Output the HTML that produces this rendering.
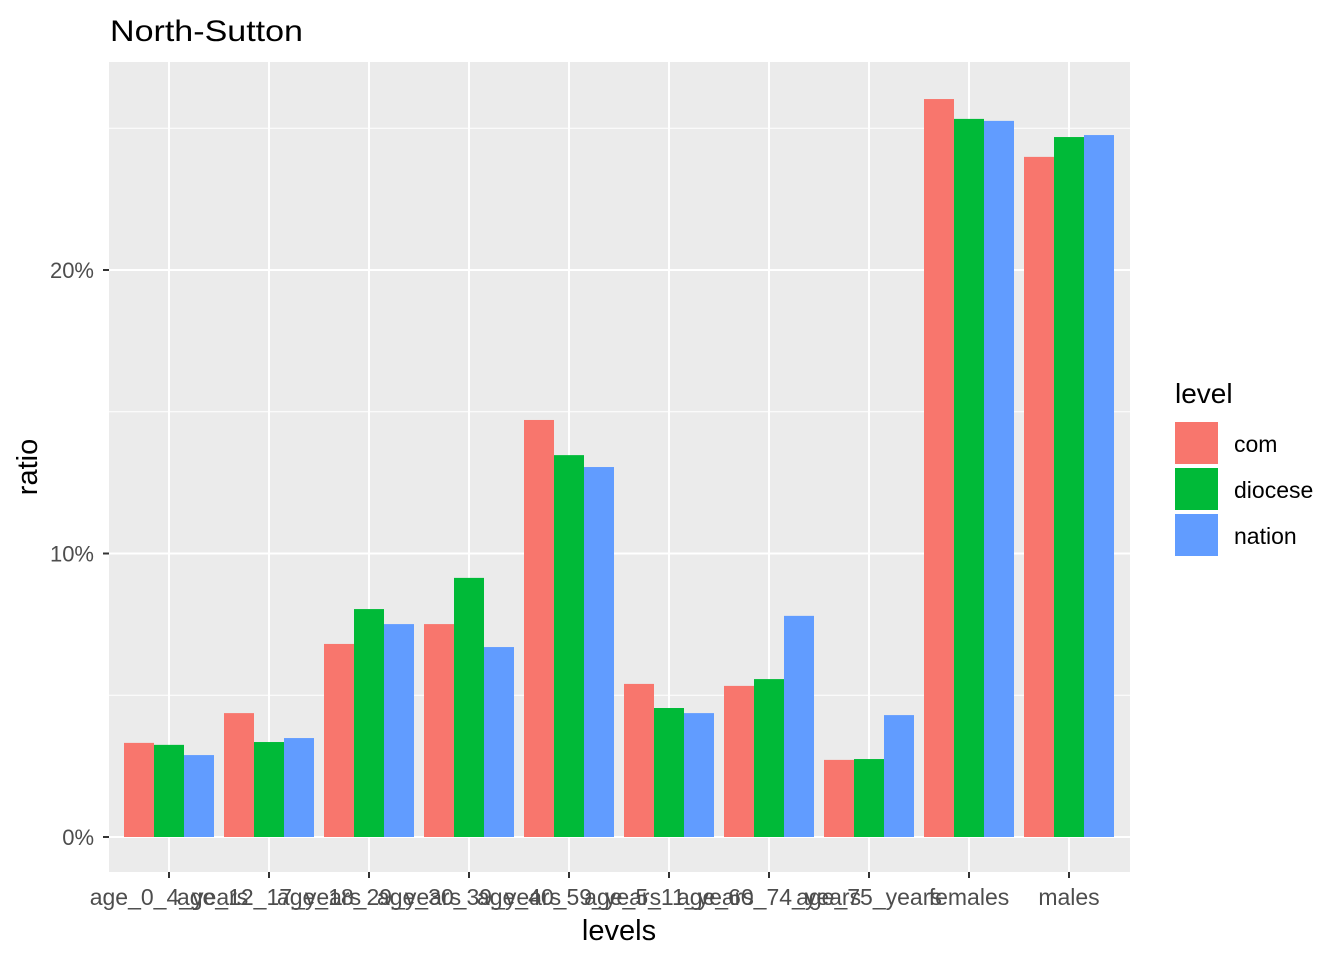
<!DOCTYPE html>
<html><head><meta charset="utf-8"><style>
body{margin:0;background:#fff;font-family:"Liberation Sans",sans-serif;}
</style></head><body>
<svg id="chart" width="1344" height="960" xmlns="http://www.w3.org/2000/svg">
<text x="110" y="41" font-size="30" textLength="193" lengthAdjust="spacingAndGlyphs" fill="#000">North-Sutton</text>
<rect x="109" y="62" width="1021" height="810" fill="#ebebeb"/>
<g id="grid"></g><g id="bars"></g><g id="axes"></g>
<text x="619" y="940" font-size="29" text-anchor="middle" fill="#000">levels</text>
<text transform="translate(37,467) rotate(-90)" font-size="29" text-anchor="middle" fill="#000">ratio</text>
<g>
<text x="1175" y="403" font-size="28" fill="#000">level</text>
<g id="legend"></g>
</g>
</svg>
<script>
const categories=["age_0_4_years","age_12_17_years","age_18_29_years","age_30_39_years","age_40_59_years","age_5_11_years","age_60_74_years","age_75_years","females","males"];
const seriesNames=["com","diocese","nation"];
const com=[3.32,4.37,6.81,7.51,14.71,5.40,5.33,2.72,26.03,23.99];
const diocese=[3.25,3.35,8.04,9.14,13.47,4.55,5.57,2.75,25.33,24.69];
const nation=[2.89,3.49,7.51,6.70,13.05,4.37,7.80,4.30,25.26,24.76];
const yTicks=[0,10,20];
const yTickLabels=["0%","10%","20%"];
const colors=["#f8766d","#00ba38","#619cff"];
const NS="http://www.w3.org/2000/svg";
const y=v=>837-v*28.35;
const x=i=>169+i*100;
function mk(tag,attrs,parent,txt){const e=document.createElementNS(NS,tag);for(const k in attrs)e.setAttribute(k,attrs[k]);if(txt!==undefined)e.textContent=txt;parent.appendChild(e);return e;}
const grid=document.getElementById('grid'),bars=document.getElementById('bars'),axes=document.getElementById('axes'),legend=document.getElementById('legend');
[5,15,25].forEach(v=>{const l=mk('line',{x1:109,x2:1130,y1:y(v),y2:y(v),stroke:'#fff','stroke-width':1},grid);

});
yTicks.forEach((v,i)=>{const l=mk('line',{x1:109,x2:1130,y1:y(v),y2:y(v),stroke:'#fff','stroke-width':2},grid);


const t=mk('text',{x:94,y:y(v)+8,'font-size':22,'text-anchor':'end',fill:'#4d4d4d'},axes,yTickLabels[i]);


const tk=mk('line',{x1:103,x2:109,y1:y(v),y2:y(v),stroke:'#333','stroke-width':2},axes);

});
categories.forEach((c,i)=>{const l=mk('line',{x1:x(i),x2:x(i),y1:62,y2:872,stroke:'#fff','stroke-width':2},grid);


const tk=mk('line',{x1:x(i),x2:x(i),y1:872,y2:878,stroke:'#333','stroke-width':2},axes);


const t=mk('text',{x:x(i),y:905,'font-size':23,'text-anchor':'middle',fill:'#4d4d4d'},axes,c);

});
[com,diocese,nation].forEach((s,j)=>{s.forEach((v,i)=>{const r=mk('rect',{x:x(i)-45+j*30,y:y(v),width:30,height:y(0)-y(v),fill:colors[j]},bars);

});});
seriesNames.forEach((n,j)=>{const yy=422+j*46;
const r=mk('rect',{x:1175,y:yy,width:43,height:42,fill:colors[j]},legend);


const t=mk('text',{x:1234,y:yy+30,'font-size':23,fill:'#000'},legend,n);

});
</script>
</body></html>
